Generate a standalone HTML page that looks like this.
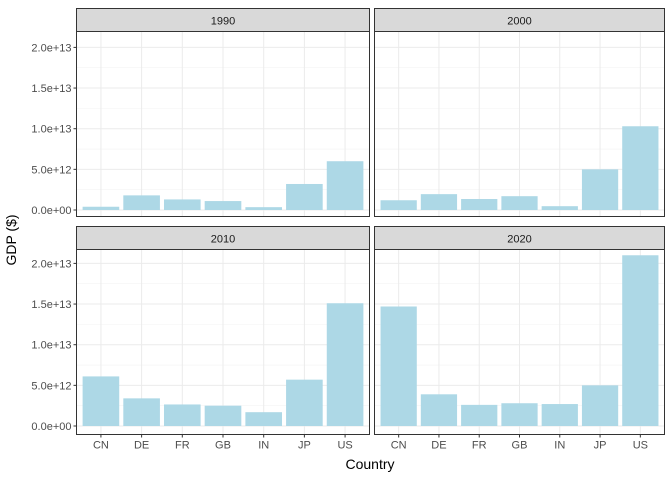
<!DOCTYPE html>
<html><head><meta charset="utf-8">
<style>
body{margin:0;background:#fff;}
svg text{font-family:"Liberation Sans",sans-serif;}
</style></head>
<body>
<svg id="chart" width="672" height="480" xmlns="http://www.w3.org/2000/svg"></svg>
<script>
const categories = ["CN","DE","FR","GB","IN","JP","US"];
const years = ["1990","2000","2010","2020"];
const gdp1990 = [0.4e12,1.8e12,1.3e12,1.1e12,0.35e12,3.2e12,6.0e12];
const gdp2000 = [1.2e12,1.95e12,1.35e12,1.7e12,0.47e12,5.0e12,10.3e12];
const gdp2010 = [6.1e12,3.4e12,2.65e12,2.5e12,1.7e12,5.7e12,15.1e12];
const gdp2020 = [14.7e12,3.9e12,2.6e12,2.8e12,2.7e12,5.0e12,21.0e12];
const yTicks = [0,5e12,1e13,1.5e13,2e13];
const yTickLabels = ["0.0e+00","5.0e+12","1.0e+13","1.5e+13","2.0e+13"];
const series = [gdp1990,gdp2000,gdp2010,gdp2020];

const svg = document.getElementById('chart');
const NS = "http://www.w3.org/2000/svg";
function mk(tag, attrs, parent){const e=document.createElementNS(NS,tag);for(const k in attrs)e.setAttribute(k,attrs[k]);(parent||svg).appendChild(e);return e;}

const panels = [
 {x0:76.5,x1:369.5,sy:8.5,py0:31.5,py1:216.5,zero:210},
 {x0:374.5,x1:664.5,sy:8.5,py0:31.5,py1:216.5,zero:210},
 {x0:76.5,x1:369.5,sy:226.5,py0:249.5,py1:434.5,zero:426},
 {x0:374.5,x1:664.5,sy:226.5,py0:249.5,py1:434.5,zero:426}
];
const pxPerUnit = 8.13/1e12;

panels.forEach((p,i)=>{
  const g = mk('g',{});
  
  
  const yS = v => p.zero - v*pxPerUnit;
  const step = (p.x1-p.x0)/7.2;
  const xS = k => p.x0 + (k+0.6)*step;
  for(let t=0;t<yTicks.length-1;t++){
    const y=yS((yTicks[t]+yTicks[t+1])/2);
    mk('line',{x1:p.x0,x2:p.x1,y1:y,y2:y,stroke:'#f3f3f3','stroke-width':0.6},g);
  }
  yTicks.forEach(v=>{const y=yS(v);mk('line',{x1:p.x0,x2:p.x1,y1:y,y2:y,stroke:'#ebebeb','stroke-width':1},g);});
  categories.forEach((c,k)=>{const x=xS(k);mk('line',{x1:x,x2:x,y1:p.py0,y2:p.py1,stroke:'#ebebeb','stroke-width':1},g);});
  series[i].forEach((v,k)=>{
    const b=mk('rect',{x:xS(k)-step*0.45,width:step*0.9,y:yS(v),height:v*pxPerUnit,fill:'#add8e6'},g);
    
    
  });
  mk('rect',{x:p.x0,y:p.py0,width:p.x1-p.x0,height:p.py1-p.py0,fill:'none',stroke:'#333','stroke-width':1},g);
  const s=mk('rect',{x:p.x0,y:p.sy,width:p.x1-p.x0,height:p.py0-p.sy,fill:'#d9d9d9',stroke:'#333','stroke-width':1},g);
  
  
  const st=mk('text',{x:(p.x0+p.x1)/2,y:p.sy+16,'text-anchor':'middle','font-size':11,fill:'#1a1a1a'},g);
  st.textContent=years[i];
  
  
  if(i%2===0){
    yTicks.forEach((v,t)=>{const y=yS(v);
      mk('line',{x1:p.x0-3,x2:p.x0,y1:y,y2:y,stroke:'#333'},g);
      const tx=mk('text',{x:p.x0-5,y:y+4,'text-anchor':'end','font-size':11,fill:'#4d4d4d'},g);
      tx.textContent=yTickLabels[t];
      
      
    });
  }
  if(i>=2){
    categories.forEach((c,k)=>{const x=xS(k);
      mk('line',{x1:x,x2:x,y1:p.py1,y2:p.py1+3,stroke:'#333'},g);
      const tx=mk('text',{x:x,y:p.py1+14,'text-anchor':'middle','font-size':11,fill:'#4d4d4d'},g);
      tx.textContent=c;
      
      
    });
  }
});
const xt=mk('text',{x:370,y:469,'text-anchor':'middle','font-size':14,fill:'#000'});
xt.textContent='Country';


const yt=mk('text',{x:0,y:0,'text-anchor':'middle','font-size':14,fill:'#000',transform:'translate(16,240) rotate(-90)'});
yt.textContent='GDP ($)';


</script>
</body></html>
